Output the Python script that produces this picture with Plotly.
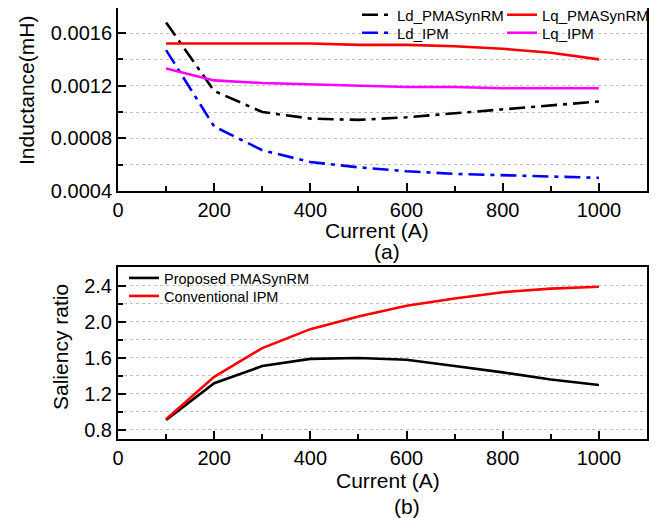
import plotly.graph_objects as go

# The page body keeps its default 8px margin, so the figure is drawn 8px in from
# the window's top-left corner; all positions below are given in window pixels.
OFF = 8
W, H = 657 - OFF, 518 - OFF

current = [100, 200, 300, 400, 500, 600, 700, 800, 900, 1000]

# (a) Inductance (mH)
ld_pmasynrm = [0.00168, 0.00116, 0.00100, 0.00095, 0.00094, 0.00096, 0.00099, 0.00102, 0.00105, 0.00108]
lq_pmasynrm = [0.00152, 0.00152, 0.00152, 0.00152, 0.00151, 0.00151, 0.00150, 0.00148, 0.00145, 0.00140]
ld_ipm = [0.00147, 0.00089, 0.00071, 0.00062, 0.00058, 0.00055, 0.00053, 0.00052, 0.00051, 0.00050]
lq_ipm = [0.00133, 0.00124, 0.00122, 0.00121, 0.00120, 0.00119, 0.00119, 0.00118, 0.00118, 0.00118]

# (b) Saliency ratio
saliency_pmasynrm = [0.91, 1.32, 1.51, 1.59, 1.60, 1.58, 1.51, 1.44, 1.36, 1.30]
saliency_ipm = [0.92, 1.39, 1.71, 1.92, 2.06, 2.18, 2.26, 2.33, 2.37, 2.39]

x_ticks = [0, 200, 400, 600, 800, 1000]
y1_ticks = [0.0004, 0.0008, 0.0012, 0.0016]
y2_ticks = [0.8, 1.2, 1.6, 2.0, 2.4]

FONT = "Liberation Sans, Arial, sans-serif"
DASHDOT = "16px,6px,4px,6px"


def px_x(p):
    return (p - OFF) / W


def px_y(p):
    return 1 - (p - OFF) / H


fig = go.Figure()
fig.add_trace(go.Scatter(x=current, y=ld_pmasynrm, name="Ld_PMASynRM", mode="lines",
                         line=dict(color="black", width=2.6, dash=DASHDOT),
                         xaxis="x", yaxis="y", legend="legend"))
fig.add_trace(go.Scatter(x=current, y=lq_pmasynrm, name="Lq_PMASynRM", mode="lines",
                         line=dict(color="#ff0000", width=2.6),
                         xaxis="x", yaxis="y", legend="legend2"))
fig.add_trace(go.Scatter(x=current, y=ld_ipm, name="Ld_IPM", mode="lines",
                         line=dict(color="#0000ff", width=2.6, dash=DASHDOT),
                         xaxis="x", yaxis="y", legend="legend3"))
fig.add_trace(go.Scatter(x=current, y=lq_ipm, name="Lq_IPM", mode="lines",
                         line=dict(color="#ff00ff", width=2.6),
                         xaxis="x", yaxis="y", legend="legend4"))
fig.add_trace(go.Scatter(x=current, y=saliency_pmasynrm, name="Proposed PMASynRM", mode="lines",
                         line=dict(color="black", width=2.6),
                         xaxis="x2", yaxis="y2", legend="legend5"))
fig.add_trace(go.Scatter(x=current, y=saliency_ipm, name="Conventional IPM", mode="lines",
                         line=dict(color="#ff0000", width=2.6),
                         xaxis="x2", yaxis="y2", legend="legend6"))

xdom = [px_x(118), px_x(647)]
common_x = dict(range=[0, 1100], tickvals=x_ticks, ticks="inside", ticklen=8, tickwidth=1.5,
                tickcolor="black", showline=True, linewidth=2, linecolor="black", mirror=True,
                showgrid=False, zeroline=False, automargin=False,
                tickfont=dict(size=20, color="black", family=FONT),
                minor=dict(dtick=100, ticks="inside", ticklen=5, tickwidth=1.5, tickcolor="black"))
common_y = dict(ticks="inside", ticklen=8, tickwidth=1.5, tickcolor="black", showline=True,
                linewidth=2, linecolor="black", mirror=True, zeroline=False, automargin=False,
                showgrid=True, gridcolor="#c0c0c0", griddash="dot", gridwidth=1,
                tickfont=dict(size=20, color="black", family=FONT))


def leg(px_left, px_top, size):
    return dict(orientation="h", x=px_x(px_left), y=px_y(px_top), xanchor="left", yanchor="top",
                bgcolor="rgba(0,0,0,0)", tracegroupgap=0, itemwidth=30,
                font=dict(size=size, family=FONT, color="black"))


def ann(text, x, y, angle=0):
    return dict(text=text, x=px_x(x), y=px_y(y), xref="paper", yref="paper",
                xanchor="center", yanchor="middle", textangle=angle, showarrow=False,
                font=dict(size=21, family=FONT, color="black"))


fig.update_layout(
    width=W, height=H,
    margin=dict(l=0, r=0, t=0, b=0, autoexpand=False),
    paper_bgcolor="white", plot_bgcolor="white",
    font=dict(family=FONT, color="black"),
    showlegend=True,
    xaxis=dict(domain=xdom, anchor="y", **common_x),
    yaxis=dict(domain=[px_y(191), 1], anchor="x", range=[0.0004, 0.00179],
               tickvals=y1_ticks, tickformat=".4f",
               minor=dict(dtick=0.0002, tick0=0.0004, ticks="inside", ticklen=5, tickwidth=1.5,
                          tickcolor="black", showgrid=True, gridcolor="#c0c0c0", griddash="dot"),
               **common_y),
    xaxis2=dict(domain=xdom, anchor="y2", **common_x),
    yaxis2=dict(domain=[px_y(439), px_y(267)], anchor="x2", range=[0.7, 2.61],
                tickvals=y2_ticks, tickformat=".1f",
                minor=dict(dtick=0.2, tick0=0.8, ticks="inside", ticklen=5, tickwidth=1.5,
                           tickcolor="black", showgrid=True, gridcolor="#c0c0c0", griddash="dot"),
                **common_y),
    legend=leg(357, -1.5, 15),
    legend2=leg(502, -1.5, 15),
    legend3=leg(357, 16.5, 15),
    legend4=leg(502, 16.5, 15),
    legend5=leg(124, 262, 14.5),
    legend6=leg(124, 280, 14.5),
    annotations=[
        ann("Inductance(mH)", 27, 91, -90),
        ann("Current (A)", 377, 230),
        ann("(a)", 387, 251),
        ann("Saliency ratio", 60, 347, -90),
        ann("Current (A)", 388, 480),
        ann("(b)", 407, 506),
    ],
)

fig.write_html("out.html")
